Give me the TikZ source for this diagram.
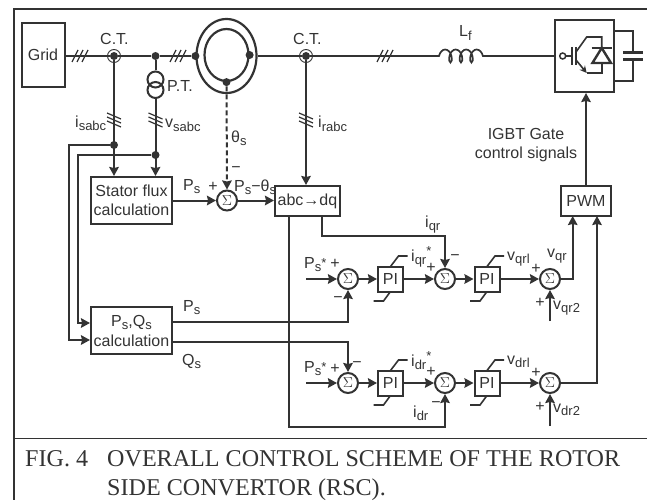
\documentclass[tikz,border=0pt]{standalone}
\usepackage{fontspec}
\setmainfont{Liberation Sans}
\newfontfamily\didascalia{Liberation Serif}
\usepackage{tikz}
\usetikzlibrary{arrows.meta,shapes.geometric,decorations.pathmorphing}
\definecolor{tratto}{gray}{0.2}
\newcommand{\pedice}[1]{\raisebox{-3.5pt}{\fontsize{13}{13}\selectfont #1}}
\newcommand{\stella}[1]{\raisebox{#1}{\fontsize{13}{13}\selectfont *}}

\begin{document}
\begin{tikzpicture}[
          x=1pt, y=-1pt,
          every node/.style={text=tratto, font=\fontsize{16}{19}\selectfont},
          % Stile dei blocchi
          blocco/.style={
              draw=tratto,
              rectangle,
              line width=2pt,
              inner sep=0pt,
              align=center
          },
          % Stile per le frecce con la punta marcata
          freccia/.style={
              -{Stealth[length=9pt,width=9.5pt,inset=1pt]},
              draw=tratto,
              line width=2pt
          },
          linea/.style={draw=tratto, line width=2pt},
          % Stile dei sommatori
          somma/.style={
              draw=tratto,
              circle,
              line width=2pt,
              minimum size=20pt,
              inner sep=0pt,
              font=\Large
          },
          punto/.style={circle, fill=tratto, minimum size=8pt, inner sep=0pt},
          anello/.style={draw=tratto, ellipse, line width=2.2pt, inner sep=0pt},
          spira/.style={draw=tratto, circle, line width=2pt, minimum size=16pt, inner sep=0pt},
          etichetta/.style={anchor=base west, inner sep=0pt},
          segno/.style={inner sep=0pt},
          % Tre tagli sulle linee trifase
          tagli/.pic={
              \draw[draw=tratto, line width=1.2pt] (-8,6) -- (-2,-6);
              \draw[draw=tratto, line width=1.2pt] (-3,6) -- (3,-6);
              \draw[draw=tratto, line width=1.2pt] (2,6) -- (8,-6);
          },
          tagliV/.pic={
              \draw[draw=tratto, line width=1.2pt] (-7,-7) -- (7,-1);
              \draw[draw=tratto, line width=1.2pt] (-7,-3) -- (7,3);
              \draw[draw=tratto, line width=1.2pt] (-7,1) -- (7,7);
          },
          % Limiti dei regolatori
          limitatore/.pic={
              \draw[linea, line width=1.6pt] (0,-12.5) -- (8,-23) -- (17,-23);
              \draw[linea, line width=1.6pt] (0,12.5) -- (-7,22) -- (-17,22);
          }
      ]
          \useasboundingbox (0,0) rectangle (647,500);

          % 1. Cornice e didascalia
          \draw [draw=tratto, line width=1.5pt] (647,9) -- (14,9) -- (14,500);
          \draw [draw=tratto, line width=1.5pt] (14,438.5) -- (647,438.5);
          \node [etichetta, font=\didascalia\fontsize{24.1}{28}\selectfont] (fig) at (25,466) {FIG. 4};
          \node [etichetta, font=\didascalia\fontsize{24.1}{28}\selectfont] (titolo1) at (107,466) {OVERALL CONTROL SCHEME OF THE ROTOR};
          \node [etichetta, font=\didascalia\fontsize{24.1}{28}\selectfont] (titolo2) at (107,495) {SIDE CONVERTOR (RSC).};

          % 2. Linea di potenza
          \node [blocco, minimum width=43pt, minimum height=64pt] (griglia) at (43,55) {Grid};
          \node [draw=tratto, circle, line width=0.9pt, minimum size=13pt, inner sep=0pt] (anelloCT1) at (114,56) {};
          \node [punto] (ct1) at (114,56) {};
          \node [punto] (puntoPT) at (155.5,56) {};
          \node [anello, minimum width=60pt, minimum height=74pt] (statore) at (226.5,56) {};
          \node [anello, minimum width=44pt, minimum height=52pt] (rotore) at (226.5,55) {};
          \node [punto] (puntoS) at (statore.west) {};
          \node [punto] (puntoR) at (rotore.east) {};
          \node [punto] (puntoT) at (rotore.south) {};
          \node [draw=tratto, circle, line width=0.9pt, minimum size=13pt, inner sep=0pt] (anelloCT2) at (306,56) {};
          \node [punto] (ct2) at (306,56) {};
          \coordinate (lfA) at (438,56);
          \coordinate (lfB) at (488,56);
          \node [blocco, minimum width=58.5pt, minimum height=72pt] (convertitore) at (584.25,56) {};
          \draw [linea] (ct1 -| griglia.east) -- (ct1) -- (puntoPT) -- (puntoS);
          \draw [linea] (statore.east) -- (ct2) -- (lfA);
          \draw [linea, line width=1.7pt, decorate, decoration={coil, aspect=0.55, segment length=10.5pt, amplitude=6.5pt, pre length=1pt, post length=1pt}] (lfA) -- (lfB);
          \draw [linea] (lfB) -- (convertitore.west);
          \pic at (80,56) {tagli};
          \pic at (178,56) {tagli};
          \pic at (385,56) {tagli};
          \node [etichetta] (nomeCT1) at (100,45) {C.T.};
          \node [etichetta] (nomeCT2) at (293,45) {C.T.};
          \node [etichetta] (nomeLf) at (459,37) {L\pedice{f}};

          % 3. Interruttore e condensatore
          \node [circle, draw=tratto, line width=1.5pt, minimum size=6pt, inner sep=0pt] (gate) at (562.7,56) {};
          \coordinate (igbtC) at (601.7,48);
          \coordinate (igbtE) at (601.7,63);
          \draw [linea, line width=1.6pt] (gate.east) -- (572,56);
          \draw [linea, line width=1.6pt] (572,47) -- (572,65);
          \draw [linea, line width=1.6pt] (575.7,47) -- (575.7,65);
          \draw [linea, line width=1.6pt] (576,52) -- (586.7,37) -- (601.7,37) -- (igbtC);
          \draw [freccia, line width=1.6pt, -{Stealth[length=7pt,width=7pt]}] (576,60) -- (586.7,73);
          \draw [linea, line width=1.6pt] (586.7,73) -- (601.7,73) -- (igbtE);
          \draw [draw=tratto, line width=2.4pt] (591.7,48) -- (611.7,48);
          \draw [draw=tratto, line width=2.4pt] (igbtC) -- (611,63) -- (592.4,63) -- cycle;
          \draw [linea] (convertitore.east |- 0,31) -- (633,31) -- (633,53);
          \draw [linea] (633,60) -- (633,81) -- (convertitore.east |- 0,81);
          \draw [draw=tratto, line width=3pt] (623,53) -- (643,53);
          \draw [draw=tratto, line width=3pt] (623,60) -- (643,60);

          % 4. Misure e blocchi di calcolo
          \node [spira] (ptA) at (155.5,79.5) {};
          \node [spira] (ptB) at (155.5,90) {};
          \node [etichetta] (nomePT) at (167,92) {P.T.};
          \node [blocco, minimum width=81pt, minimum height=47pt] (flusso) at (131.5,200.5) {Stator flux\\calculation};
          \node [blocco, minimum width=81pt, minimum height=47.5pt] (potenze) at (131.5,330.5) {P\pedice{s},Q\pedice{s}\\[1pt]calculation};
          \node [punto] (puntoI) at (114,145) {};
          \node [punto] (puntoV) at (155.5,155) {};
          \coordinate (rigaI) at (69,340);
          \coordinate (rigaV) at (78,323);
          \draw [linea] (puntoPT) -- (ptA.north);
          \draw [freccia] (ct1) -- (flusso.north -| ct1);
          \draw [freccia] (ptB.south) -- (flusso.north -| ptB);
          \draw [freccia] (puntoI) -| (rigaI) -- (rigaI -| potenze.west);
          \draw [freccia] (puntoV) -| (rigaV) -- (rigaV -| potenze.west);
          \pic at (114,120) {tagliV};
          \pic at (155.5,120) {tagliV};
          \pic at (306,120) {tagliV};
          \node [etichetta] (nomeIs) at (75,127) {i\pedice{sabc}};
          \node [etichetta] (nomeVs) at (165,128) {v\pedice{sabc}};
          \node [etichetta] (nomeIr) at (318,128) {i\pedice{rabc}};
          \node [etichetta] (nomeTeta) at (231,142) {θ\pedice{s}};

          % 5. Somma dell'angolo e trasformata
          \node [somma] (sommaT) at (227,200.5) {$\Sigma$};
          \node [blocco, minimum width=65pt, minimum height=30pt] (abc) at (307.5,201) {abc→dq};
          \draw [freccia] (flusso.east |- sommaT) -- (sommaT.west);
          \draw [freccia] (sommaT.east) -- (abc.west |- sommaT);
          \draw [freccia, dash pattern=on 5pt off 3pt] (puntoT) -- (sommaT.north);
          \draw [freccia] (ct2) -- (abc.north -| ct2);
          \node [etichetta] (nomePs1) at (183,190) {P\pedice{s}};
          \node [segno] (piuT) at (213,187) {+};
          \node [segno] (menoT) at (236,170) {−};
          \node [etichetta] (nomeDiff) at (234,191) {P\pedice{s}−θ\pedice{s}};

          % 6. Anello q
          \node [somma] (somma1) at (348,279) {$\Sigma$};
          \node [blocco, minimum width=25pt, minimum height=25pt] (pi1) at (390.5,279) {PI};
          \node [somma] (somma2) at (445,279) {$\Sigma$};
          \node [blocco, minimum width=25pt, minimum height=25pt] (pi2) at (487,279) {PI};
          \node [somma] (somma3) at (550,279) {$\Sigma$};
          \node [blocco, minimum width=50pt, minimum height=30pt] (pwm) at (586,201) {PWM};
          \coordinate (rifP1) at (306,279);
          \coordinate (abcQ) at (322,216);
          \coordinate (gomitoQ) at (322,236);
          \coordinate (uscitaP) at (172,322);
          \coordinate (pwmQ) at (572.7,216);
          \coordinate (ingQ2) at (550,321);
          \draw [freccia] (rifP1) -- (somma1.west);
          \draw [freccia] (somma1.east) -- (pi1.west);
          \draw [freccia] (pi1.east) -- (somma2.west);
          \draw [freccia] (somma2.east) -- (pi2.west);
          \draw [freccia] (pi2.east) -- (somma3.west);
          \draw [freccia] (uscitaP) -| (somma1.south);
          \draw [freccia] (abcQ) -- (gomitoQ) -| (somma2.north);
          \draw [freccia] (somma3.east) -| (pwmQ);
          \draw [freccia] (ingQ2) -- (somma3.south);
          \pic at (pi1) {limitatore};
          \pic at (pi2) {limitatore};
          \node [etichetta] (nomePs2) at (183,311) {P\pedice{s}};
          \node [etichetta] (nomeQs) at (182,365) {Q\pedice{s}};
          \node [etichetta] (nomeRif1) at (304,268) {P\pedice{s}\stella{1pt}};
          \node [segno] (piu1) at (335,264) {+};
          \node [segno] (meno1) at (338,300) {−};
          \node [etichetta] (nomeIq) at (425,227) {i\pedice{qr}};
          \node [etichetta] (nomeIqRif) at (411,261) {i\pedice{qr}\stella{6pt}};
          \node [segno] (piu2) at (431,268) {+};
          \node [segno] (meno2) at (455,258) {−};
          \node [etichetta] (nomeVq1) at (507,260) {v\pedice{qrl}};
          \node [segno] (piu3) at (536,269) {+};
          \node [etichetta] (nomeVq) at (547,257) {v\pedice{qr}};
          \node [segno] (piu4) at (540,303) {+};
          \node [etichetta] (nomeVq2) at (553,309) {v\pedice{qr2}};

          % 7. Anello d
          \node [somma] (somma4) at (348,383) {$\Sigma$};
          \node [blocco, minimum width=25pt, minimum height=25pt] (pi3) at (390.5,383) {PI};
          \node [somma] (somma5) at (445,383) {$\Sigma$};
          \node [blocco, minimum width=25pt, minimum height=25pt] (pi4) at (487,383) {PI};
          \node [somma] (somma6) at (550,383) {$\Sigma$};
          \coordinate (rifP2) at (306,383);
          \coordinate (abcD) at (289,216);
          \coordinate (gomitoD) at (289,427);
          \coordinate (uscitaQ) at (172,342);
          \coordinate (pwmD) at (597,216);
          \coordinate (ingD2) at (550,426);
          \draw [freccia] (rifP2) -- (somma4.west);
          \draw [freccia] (somma4.east) -- (pi3.west);
          \draw [freccia] (pi3.east) -- (somma5.west);
          \draw [freccia] (somma5.east) -- (pi4.west);
          \draw [freccia] (pi4.east) -- (somma6.west);
          \draw [freccia] (uscitaQ) -| (somma4.north);
          \draw [freccia] (abcD) -- (gomitoD) -| (somma5.south);
          \draw [freccia] (somma6.east) -| (pwmD);
          \draw [freccia] (ingD2) -- (somma6.south);
          \pic at (pi3) {limitatore};
          \pic at (pi4) {limitatore};
          \node [etichetta] (nomeRif2) at (304,372) {P\pedice{s}\stella{1pt}};
          \node [segno] (piu5) at (335,369) {+};
          \node [segno] (meno5) at (357,365) {−};
          \node [etichetta] (nomeIdRif) at (411,366) {i\pedice{dr}\stella{6pt}};
          \node [segno] (piu6) at (431,372) {+};
          \node [etichetta] (nomeId) at (413,417) {i\pedice{dr}};
          \node [segno] (meno6) at (436,405) {−};
          \node [etichetta] (nomeVd1) at (507,364) {v\pedice{drl}};
          \node [segno] (piu7) at (536,373) {+};
          \node [segno] (piu8) at (540,407) {+};
          \node [etichetta] (nomeVd2) at (553,412) {v\pedice{dr2}};

          % 8. Segnali verso il convertitore
          \draw [freccia] (pwm.north) -- (convertitore.south -| pwm);
          \node [align=center, inner sep=0pt] (nomeGate) at (526,145) {IGBT Gate\\control signals};

      \end{tikzpicture}
\end{document}
